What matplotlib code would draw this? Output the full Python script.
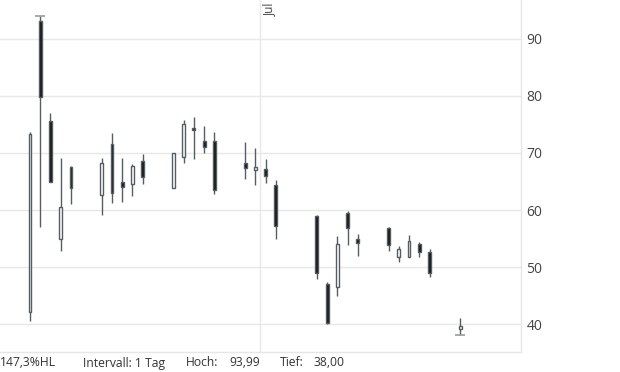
import matplotlib
matplotlib.use("Agg")
import matplotlib.pyplot as plt

plt.rcParams['font.family'] = ['Open Sans', 'DejaVu Sans']

# trading day index (0 = first candle), weekends / holidays skipped
days = [0, 1, 2, 3, 4, 7, 8, 9, 10, 11, 14, 15, 16, 17, 18,
        21, 22, 23, 24, 28, 29, 30, 31, 32, 35, 36, 37, 38, 39, 42]
opens = [42.05, 93.1, 75.56, 54.97, 67.5, 62.7, 71.53, 64.97, 64.5, 68.54,
         63.92, 69.24, 74.4, 72.1, 72.1, 68.25, 67.07, 67.2, 64.39, 58.95,
         47.02, 46.55, 59.47, 54.91, 56.84, 51.81, 51.81, 53.98, 52.63, 39.18]
highs = [73.6, 93.99, 76.96, 69.12, 67.7, 69.12, 73.46, 69.12, 68.02, 69.82,
         70.0, 75.79, 76.32, 74.74, 73.68, 71.93, 70.88, 68.95, 65.26, 59.18,
         47.37, 55.44, 59.82, 55.79, 57.08, 53.74, 55.61, 54.39, 53.1, 41.05]
lows = [40.47, 56.96, 64.9, 52.86, 61.0, 59.2, 61.18, 61.4, 62.46, 64.5,
        63.9, 68.3, 69.0, 70.05, 62.86, 65.5, 64.44, 64.8, 54.97, 47.95,
        40.06, 44.97, 53.92, 51.99, 52.86, 50.93, 51.8, 51.8, 48.3, 38.0]
closes = [73.28, 79.77, 64.97, 60.47, 63.92, 68.2, 62.93, 63.98, 67.72, 65.85,
          70.0, 75.09, 74.1, 71.1, 63.57, 67.43, 67.54, 65.91, 57.13, 48.9,
          40.23, 54.04, 56.8, 54.27, 53.92, 53.16, 54.56, 52.58, 48.9, 39.65]

yticks = [40, 50, 60, 70, 80, 90]
month_pos = 22.5
month_label = "Jul"
hl_text = "147,3%HL"
interval_text = "Intervall: 1 Tag"
high_val = "93,99"
low_val = "38,00"

edge = '#555d63'
grid = '#e8e8e8'

fig = plt.figure(figsize=(6.2, 3.72), dpi=100)
ax = fig.add_axes([0, 20 / 372, 521 / 620, 352 / 372])

ax.set_xlim(-2.928, 47.93)
ax.set_ylim(35.09, 96.84)

for y in yticks:
    ax.axhline(y, color=grid, lw=1, zorder=0)
ax.axvline(month_pos, color=grid, lw=1, zorder=0)
ax.text(month_pos + 0.25, 96.4, month_label, rotation=90, va='top', ha='left',
        fontsize=8.5, color='#444444')

# wicks
ax.vlines(days, lows, highs, color=edge, lw=1, zorder=2)

# bodies
for d, o, c in zip(days, opens, closes):
    up = c >= o
    ax.bar(d, abs(c - o), bottom=min(o, c), width=0.28,
           facecolor='white' if up else '#151515', edgecolor=edge,
           lw=1, zorder=3)

# period high / low markers
hi_i = highs.index(max(highs))
lo_i = lows.index(min(lows))
ax.hlines(max(highs), days[hi_i] - 0.5, days[hi_i] + 0.5, color='#999999', lw=1.2, zorder=4)
ax.hlines(min(lows), days[lo_i] - 0.5, days[lo_i] + 0.5, color='#999999', lw=1.2, zorder=4)

ax.yaxis.tick_right()
ax.set_yticks(yticks)
ax.set_yticklabels([str(t) for t in yticks])
ax.tick_params(axis='y', length=0, pad=4, labelsize=10, labelcolor='#444444')
ax.set_xticks([])
for s in ['top', 'left']:
    ax.spines[s].set_visible(False)
for s in ['right', 'bottom']:
    ax.spines[s].set_color('#e6e6e6')
    ax.spines[s].set_linewidth(1)

ty = 9 / 372
fs = 8.7
fig.text(0 / 620, ty, hl_text, fontsize=fs, color='#333333', va='center')
fig.text(83 / 620, ty, interval_text, fontsize=fs, color='#333333', va='center')
fig.text(186 / 620, ty, "Hoch:", fontsize=fs, color='#333333', va='center')
fig.text(229 / 620, ty, high_val, fontsize=fs, color='#333333', va='center')
fig.text(280 / 620, ty, "Tief:", fontsize=fs, color='#333333', va='center')
fig.text(313 / 620, ty, low_val, fontsize=fs, color='#333333', va='center')

fig.savefig('out.png', dpi=100)
